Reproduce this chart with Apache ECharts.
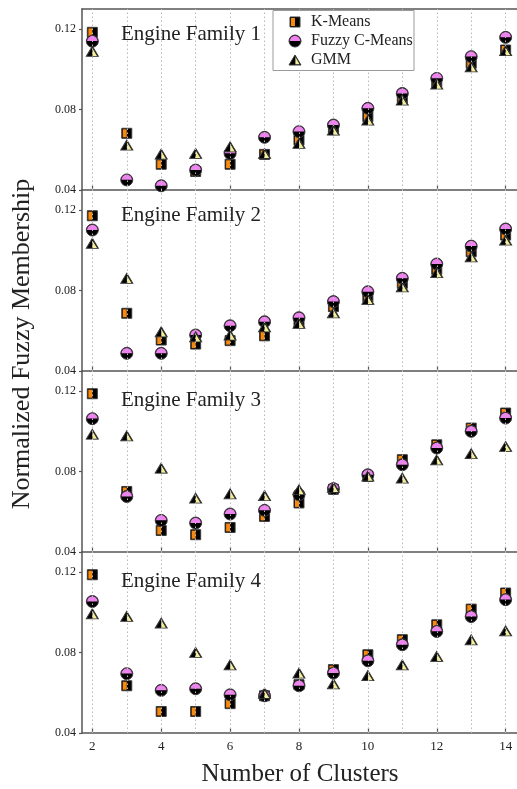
<!DOCTYPE html>
<html>
<head>
<meta charset="utf-8">
<script src="https://cdn.jsdelivr.net/npm/echarts@6/dist/echarts.min.js"></script>
<style>html,body{margin:0;padding:0;background:#fff;}#c{width:517px;height:789px;}</style>
</head>
<body>
<div id="c"></div>
<script>
// ---- data ----
const clusters = [2, 3, 4, 5, 6, 7, 8, 9, 10, 11, 12, 13, 14];
const xTickLabels = [2, 4, 6, 8, 10, 12, 14];
const yTickLabels = [0.04, 0.08, 0.12];
const families = ['Engine Family 1', 'Engine Family 2', 'Engine Family 3', 'Engine Family 4'];
const methods = ['K-Means', 'Fuzzy C-Means', 'GMM'];

const family1_kmeans = [0.1184, 0.0682, 0.0528, 0.0492, 0.0528, 0.0577, 0.0648, 0.0700, 0.0764, 0.0856, 0.0938, 0.1030, 0.1096];
const family1_fcm    = [0.1140, 0.0450, 0.0421, 0.0499, 0.0582, 0.0662, 0.0690, 0.0723, 0.0806, 0.0880, 0.0955, 0.1063, 0.1159];
const family1_gmm    = [0.1090, 0.0624, 0.0579, 0.0582, 0.0615, 0.0582, 0.0632, 0.0698, 0.0748, 0.0847, 0.0927, 0.1013, 0.1093];

const family2_kmeans = [0.1172, 0.0687, 0.0554, 0.0534, 0.0551, 0.0575, 0.0640, 0.0720, 0.0769, 0.0836, 0.0905, 0.0993, 0.1076];
const family2_fcm    = [0.1101, 0.0488, 0.0488, 0.0579, 0.0625, 0.0645, 0.0665, 0.0745, 0.0794, 0.0861, 0.0932, 0.1021, 0.1106];
const family2_gmm    = [0.1035, 0.0861, 0.0595, 0.0570, 0.0579, 0.0620, 0.0637, 0.0690, 0.0756, 0.0819, 0.0889, 0.0968, 0.1051];

const family3_kmeans = [0.1187, 0.0701, 0.0507, 0.0486, 0.0522, 0.0577, 0.0644, 0.0712, 0.0776, 0.0859, 0.0933, 0.1016, 0.1091];
const family3_fcm    = [0.1063, 0.0676, 0.0557, 0.0544, 0.0589, 0.0607, 0.0685, 0.0715, 0.0784, 0.0834, 0.0917, 0.1000, 0.1066];
const family3_gmm    = [0.0986, 0.0978, 0.0817, 0.0668, 0.0690, 0.0681, 0.0710, 0.0722, 0.0778, 0.0768, 0.0859, 0.0889, 0.0925];

const family4_kmeans = [0.1187, 0.0635, 0.0507, 0.0507, 0.0546, 0.0585, 0.0640, 0.0715, 0.0789, 0.0864, 0.0938, 0.1016, 0.1096];
const family4_fcm    = [0.1054, 0.0695, 0.0612, 0.0620, 0.0590, 0.0585, 0.0635, 0.0698, 0.0759, 0.0839, 0.0905, 0.0979, 0.1063];
const family4_gmm    = [0.0993, 0.0980, 0.0947, 0.0801, 0.0739, 0.0598, 0.0698, 0.0645, 0.0686, 0.0739, 0.0781, 0.0864, 0.0908];

const familyData = [
  [family1_kmeans, family1_fcm, family1_gmm],
  [family2_kmeans, family2_fcm, family2_gmm],
  [family3_kmeans, family3_fcm, family3_gmm],
  [family4_kmeans, family4_fcm, family4_gmm]
];

// ---- styles ----
const FONT = '"Liberation Serif", "DejaVu Serif", serif';
const ORANGE = '#f7890f';
const PINK = '#ee82ee';
const YELLOW = '#f4ee9c';
const AXIS = '#555';
const TXT = '#222';
const gridTops = [9, 190, 371, 552];
const gridH = 181;

const markerDefs = [
  { // K-Means: square, left half orange
    base: { symbol: 'rect', size: 10 },
    over: { symbol: 'rect', size: [4, 8], offset: [-2, 0], color: ORANGE }
  },
  { // Fuzzy C-Means: circle, top half pink
    base: { symbol: 'circle', size: 12 },
    over: { symbol: 'path://M0,10 A10,10 0 0 1 20,10 Z', size: [10.5, 5.25], offset: [0, -2.7], color: PINK }
  },
  { // GMM: triangle, right half yellow
    base: { symbol: 'triangle', size: [12, 10] },
    over: { symbol: 'path://M0,0 L0,20 L10,20 Z', size: [4.6, 7.6], offset: [2.4, 0.9], color: YELLOW }
  }
];

const grids = [], xAxes = [], yAxes = [], titles = [], series = [];
for (let f = 0; f < 4; f++) {
  grids.push({ left: 82, right: 0, top: gridTops[f], height: gridH });
  xAxes.push({
    type: 'value', gridIndex: f, min: 1.7, max: 14.33,
    axisLine: { show: true, onZero: false, lineStyle: { color: AXIS, width: 1.5 } },
    axisTick: { show: true, inside: true, length: 5, customValues: xTickLabels, lineStyle: { color: AXIS, width: 1.2 } },
    axisLabel: { show: f === 3, customValues: xTickLabels, margin: 7, fontFamily: FONT, fontSize: 13, color: TXT },
    splitLine: { show: false }
  });
  yAxes.push({
    type: 'value', gridIndex: f, min: 0.04, max: 0.13,
    axisLine: { show: true, onZero: false, lineStyle: { color: AXIS, width: 1.5 } },
    axisTick: { show: true, inside: false, length: 3, customValues: yTickLabels, lineStyle: { color: AXIS, width: 1.2 } },
    axisLabel: { show: true, customValues: yTickLabels, margin: 6, fontFamily: FONT, fontSize: 12, color: TXT,
      formatter: v => v.toFixed(2) },
    splitLine: { show: false }
  });
  titles.push({
    text: families[f], left: 116, top: [18, 199, 384, 565][f],
    textStyle: { fontFamily: FONT, fontSize: 21, fontWeight: 'normal', color: TXT, lineHeight: 22 }
  });
  // dotted vertical grid lines
  series.push({
    type: 'scatter', xAxisIndex: f, yAxisIndex: f, data: [], silent: true,
    markLine: {
      silent: true, symbol: ['none', 'none'], label: { show: false }, animation: false,
      lineStyle: { type: [1.5, 2.5], color: '#b8b8b8', width: 1 },
      emphasis: { disabled: true },
      data: clusters.map(c => ({ xAxis: c }))
    }
  });
  for (let m = 0; m < 3; m++) {
    const pts = clusters.map((c, i) => [c, familyData[f][m][i]]);
    const d = markerDefs[m];
    series.push({
      name: methods[m], type: 'scatter', xAxisIndex: f, yAxisIndex: f, data: pts, silent: true,
      symbol: d.base.symbol, symbolSize: d.base.size,
      itemStyle: { color: '#000', borderColor: '#3a3a3a', borderWidth: 1, opacity: 1 },
      emphasis: { disabled: true }
    });
    series.push({
      name: methods[m] + ' fill', type: 'scatter', xAxisIndex: f, yAxisIndex: f, data: pts, silent: true,
      symbol: d.over.symbol, symbolSize: d.over.size, symbolOffset: d.over.offset,
      itemStyle: { color: d.over.color, borderWidth: 0, opacity: 1 },
      emphasis: { disabled: true }
    });
  }
}
// top frame line for first panel
xAxes.push({
  type: 'value', gridIndex: 0, position: 'top', min: 1.7, max: 14.33,
  axisLine: { show: true, onZero: false, lineStyle: { color: AXIS, width: 1.5 } },
  axisTick: { show: false }, axisLabel: { show: false }, splitLine: { show: false }
});

// legend (drawn as graphics)
const LX = 295, legendY = [22, 41, 60];
const legendGraphics = [
  { type: 'rect', shape: { x: 273, y: 10.5, width: 141, height: 60 }, style: { fill: '#fff', stroke: '#9a9a9a', lineWidth: 1 }, z: 100 },
  // square
  { type: 'rect', shape: { x: LX - 5, y: legendY[0] - 5, width: 10, height: 10 }, style: { fill: '#000', stroke: '#3a3a3a', lineWidth: 1 }, z: 101 },
  { type: 'rect', shape: { x: LX - 4, y: legendY[0] - 4, width: 4, height: 8 }, style: { fill: ORANGE }, z: 102 },
  // circle
  { type: 'circle', shape: { cx: LX, cy: legendY[1], r: 6 }, style: { fill: '#000', stroke: '#3a3a3a', lineWidth: 1 }, z: 101 },
  { type: 'sector', shape: { cx: LX, cy: legendY[1], r: 5.25, r0: 0, startAngle: Math.PI, endAngle: 2 * Math.PI }, style: { fill: PINK }, z: 102 },
  // triangle
  { type: 'polygon', shape: { points: [[LX, legendY[2] - 5], [LX + 6, legendY[2] + 5], [LX - 6, legendY[2] + 5]] }, style: { fill: '#000', stroke: '#3a3a3a', lineWidth: 1 }, z: 101 },
  { type: 'polygon', shape: { points: [[LX + 0.4, legendY[2] - 3], [LX + 4.6, legendY[2] + 4.2], [LX + 0.4, legendY[2] + 4.2]] }, style: { fill: YELLOW }, z: 102 }
];
methods.forEach((m, i) => {
  legendGraphics.push({ type: 'text', x: 311, y: legendY[i], z: 103,
    style: { text: m, fill: TXT, font: '16px ' + FONT, textAlign: 'left', textVerticalAlign: 'middle' } });
});
// axis titles
legendGraphics.push({ type: 'text', x: 300, y: 774, z: 103,
  style: { text: 'Number of Clusters', fill: TXT, font: '25px ' + FONT, textAlign: 'center', textVerticalAlign: 'middle' } });
legendGraphics.push({ type: 'text', x: 22, y: 344, rotation: Math.PI / 2, z: 103,
  style: { text: 'Normalized Fuzzy Membership', fill: TXT, font: '26px ' + FONT, textAlign: 'center', textVerticalAlign: 'middle' } });

const chart = echarts.init(document.getElementById('c'), null, { renderer: 'canvas' });
chart.setOption({
  animation: false,
  backgroundColor: '#fff',
  title: titles,
  grid: grids,
  xAxis: xAxes,
  yAxis: yAxes,
  series: series,
  graphic: legendGraphics
});
</script>
</body>
</html>
